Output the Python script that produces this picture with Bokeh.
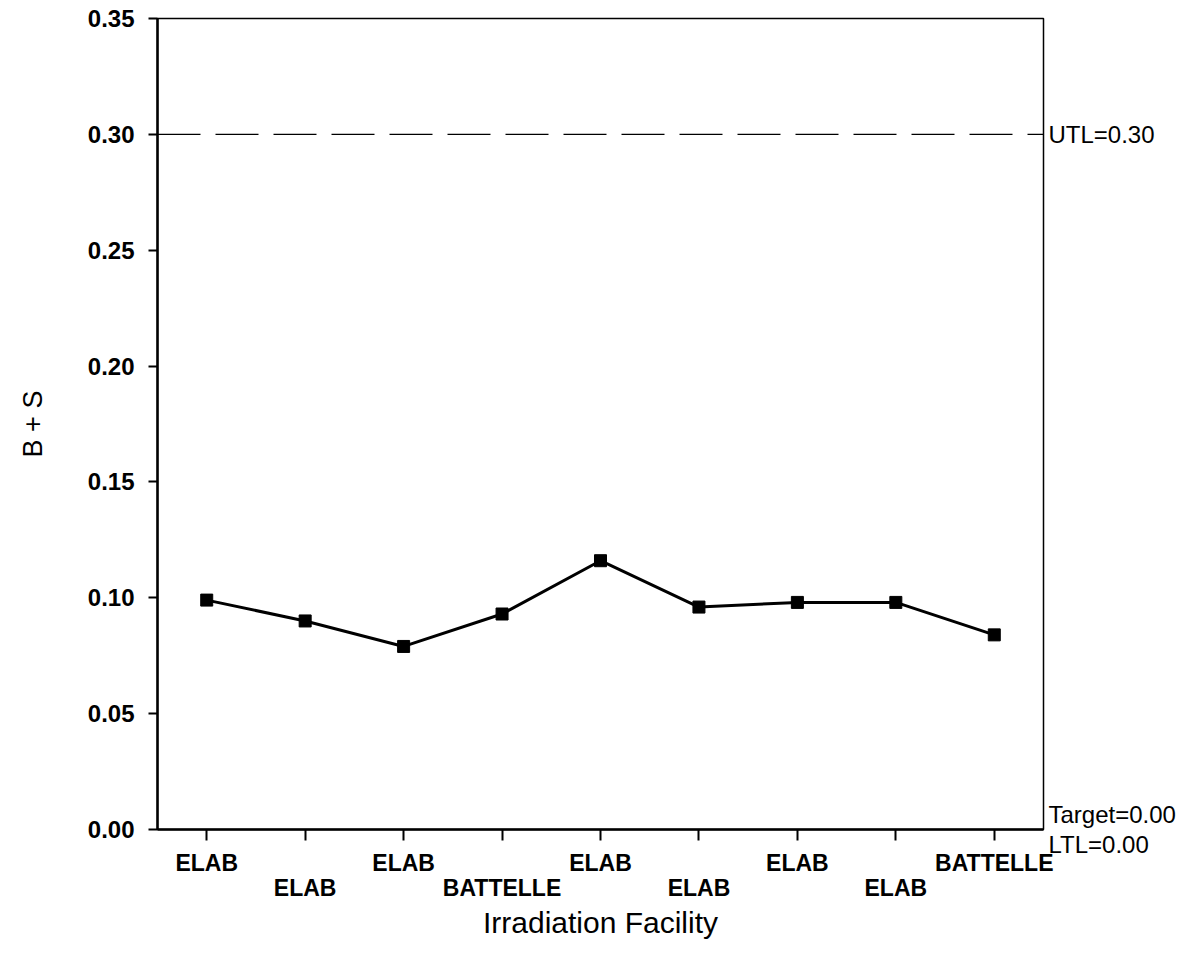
from bokeh.plotting import figure
from bokeh.models import (FixedTicker, LinearAxis, Span, Range1d,
                          NumeralTickFormatter)
from bokeh.embed import file_html
from bokeh.resources import INLINE

# ---- data ----
facilities = ["ELAB", "ELAB", "ELAB", "BATTELLE", "ELAB", "ELAB", "ELAB", "ELAB", "BATTELLE"]
bs_values = [0.099, 0.090, 0.079, 0.093, 0.116, 0.096, 0.098, 0.098, 0.084]
y_ticks = [0.00, 0.05, 0.10, 0.15, 0.20, 0.25, 0.30, 0.35]
utl = 0.30
target = 0.00
ltl = 0.00

FONT = "Liberation Sans"
xs = list(range(len(facilities)))

p = figure(width=1198, height=955,
           x_range=Range1d(-0.5, len(facilities) - 0.5),
           y_range=Range1d(0, 0.35),
           output_backend="svg", toolbar_location=None,
           min_border_left=157, min_border_right=155,
           min_border_top=18, min_border_bottom=126)
p.background_fill_color = "white"
p.border_fill_color = "white"
p.outline_line_color = "black"
p.outline_line_width = 1.5
p.xgrid.visible = False
p.ygrid.visible = False

# y axis
ya = p.yaxis[0]
ya.ticker = FixedTicker(ticks=y_ticks)
ya.formatter = NumeralTickFormatter(format="0.00")
ya.axis_line_width = 2.5
ya.major_tick_line_width = 2
ya.major_tick_out = 9
ya.major_tick_in = 0
ya.minor_tick_line_color = None
ya.major_label_text_font = FONT
ya.major_label_text_font_style = "bold"
ya.major_label_text_font_size = "24px"
ya.major_label_text_color = "black"
ya.major_label_standoff = 14
ya.axis_label = "B + S"
ya.axis_label_text_font = FONT
ya.axis_label_text_font_style = "normal"
ya.axis_label_text_font_size = "27px"
ya.axis_label_text_color = "black"
ya.axis_label_standoff = 37

# x axis, first row (even indices)
xa = p.xaxis[0]
xa.ticker = FixedTicker(ticks=xs)
xa.major_label_overrides = {i: (facilities[i] if i % 2 == 0 else "") for i in xs}
xa.axis_line_width = 2.5
xa.major_tick_line_width = 2
xa.major_tick_out = 11
xa.major_tick_in = 0
xa.minor_tick_line_color = None
xa.major_label_text_font = FONT
xa.major_label_text_font_style = "bold"
xa.major_label_text_font_size = "23px"
xa.major_label_text_color = "black"
xa.major_label_standoff = 9

# x axis, second row (odd indices)
odd = [i for i in xs if i % 2 == 1]
xa2 = LinearAxis(ticker=FixedTicker(ticks=odd),
                 major_label_overrides={i: facilities[i] for i in odd})
xa2.axis_line_color = None
xa2.major_tick_line_color = None
xa2.minor_tick_line_color = None
xa2.major_tick_out = 0
xa2.major_tick_in = 0
xa2.major_label_text_font = FONT
xa2.major_label_text_font_style = "bold"
xa2.major_label_text_font_size = "23px"
xa2.major_label_text_color = "black"
xa2.major_label_standoff = -4
xa2.axis_label = "Irradiation Facility"
xa2.axis_label_text_font = FONT
xa2.axis_label_text_font_style = "normal"
xa2.axis_label_text_font_size = "30px"
xa2.axis_label_text_color = "black"
xa2.axis_label_standoff = 2
p.add_layout(xa2, "below")

# control-limit texts on the right side
ra = LinearAxis(ticker=FixedTicker(ticks=[target, utl]),
                major_label_overrides={utl: f"UTL={utl:.2f}",
                                       target: f"Target={target:.2f}\nLTL={ltl:.2f}"})
ra.axis_line_color = None
ra.major_tick_line_color = None
ra.minor_tick_line_color = None
ra.major_tick_out = 0
ra.major_tick_in = 0
ra.major_label_standoff = 5
ra.major_label_text_font = FONT
ra.major_label_text_font_size = "24px"
ra.major_label_text_line_height = 1.1
ra.major_label_text_color = "black"
p.add_layout(ra, "right")

# control limit line
p.add_layout(Span(location=utl, dimension="width", line_color="black",
                  line_width=1.2, line_dash="43 15"))

# series
p.line(xs, bs_values, line_color="black", line_width=3)
p.scatter(xs, bs_values, marker="square", size=12, color="black")

open("out.html", "w").write(file_html(p, INLINE))
